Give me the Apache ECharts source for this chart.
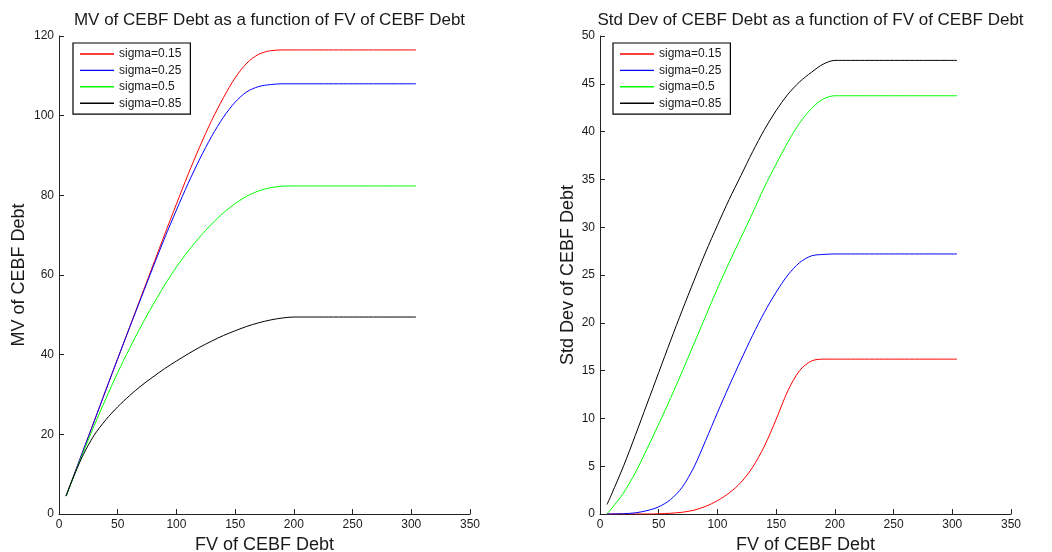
<!DOCTYPE html>
<html>
<head>
<meta charset="utf-8">
<script src="https://cdn.jsdelivr.net/npm/echarts@6/dist/echarts.min.js"></script>
<style>
  html, body { margin: 0; padding: 0; background: #ffffff; }
  #chart { width: 1052px; height: 552px; }
</style>
</head>
<body>
<div id="chart"></div>
<script>
// Face value of the CEBF debt (shared x samples for every curve)
const faceValue = [6, 10, 20, 30, 40, 50, 60, 70, 80, 90, 100, 110, 120, 130, 140, 150, 160, 170, 180, 190, 200, 304];

const sigmaNames = ['sigma=0.15', 'sigma=0.25', 'sigma=0.5', 'sigma=0.85'];

// Market value of the debt, one array per sigma
const mvSigma015 = [4.5, 7.6, 15.5, 23.3, 31.2, 39.0, 46.8, 54.6, 62.4, 70.2, 77.8, 85.3, 92.3, 98.8, 104.5, 109.5, 113.2, 115.4, 116.3, 116.5, 116.5, 116.5];
const mvSigma025 = [4.5, 7.6, 15.5, 23.3, 31.2, 39.0, 46.7, 54.3, 61.9, 69.3, 76.3, 83.0, 89.2, 94.8, 99.6, 103.4, 106.0, 107.3, 107.8, 108.0, 108.0, 108.0];
const mvSigma050 = [4.5, 7.5, 15.0, 22.2, 29.0, 35.5, 41.5, 47.2, 52.5, 57.5, 62.0, 66.0, 69.6, 72.8, 75.6, 77.9, 79.8, 81.1, 81.9, 82.3, 82.35, 82.35];
const mvSigma085 = [4.5, 7.6, 14.5, 19.8, 23.7, 26.9, 29.7, 32.2, 34.4, 36.5, 38.4, 40.2, 41.9, 43.4, 44.8, 46.0, 47.1, 48.0, 48.7, 49.2, 49.45, 49.45];

// Standard deviation of the debt value, one array per sigma
const sdSigma015 = [0, 0, 0, 0, 0, 0.02, 0.08, 0.18, 0.4, 0.8, 1.4, 2.2, 3.3, 4.9, 7.1, 9.9, 12.9, 15.0, 16.0, 16.2, 16.2, 16.2];
const sdSigma025 = [0, 0, 0.03, 0.12, 0.35, 0.75, 1.5, 2.8, 4.9, 7.7, 10.6, 13.4, 16.1, 18.7, 21.1, 23.2, 25.0, 26.3, 27.0, 27.15, 27.2, 27.2];
const sdSigma050 = [0.05, 0.6, 2.2, 4.3, 6.8, 9.4, 12.1, 14.9, 17.8, 20.7, 23.6, 26.3, 28.9, 31.5, 34.2, 36.6, 38.9, 40.9, 42.4, 43.4, 43.75, 43.75];
const sdSigma085 = [1.0, 2.1, 5.0, 8.2, 11.5, 14.8, 18.1, 21.3, 24.4, 27.4, 30.2, 32.9, 35.4, 37.9, 40.2, 42.2, 43.9, 45.2, 46.2, 47.05, 47.45, 47.45];

const lineColors = ['#ff0000', '#0000ff', '#00ff00', '#000000'];

const FONT = '"Liberation Sans", Arial, Helvetica, sans-serif';
const INK = '#1a1a1a';

function pairs(ys) {
  return faceValue.map((x, i) => [x, ys[i]]);
}

function curve(name, ys, idx, axisIdx) {
  return {
    name: name,
    type: 'line',
    xAxisIndex: axisIdx,
    yAxisIndex: axisIdx,
    data: pairs(ys),
    smooth: 0.3,
    showSymbol: false,
    symbol: 'none',
    animation: false,
    color: lineColors[idx],
    lineStyle: { width: 1, color: lineColors[idx] }
  };
}

function xAxisDef(gridIdx) {
  return {
    gridIndex: gridIdx,
    type: 'value',
    min: 0, max: 350, interval: 50,
    name: 'FV of CEBF Debt',
    nameLocation: 'middle',
    nameGap: 16,
    nameTextStyle: { fontFamily: FONT, fontSize: 18, color: INK },
    axisLine: { show: true, onZero: false, lineStyle: { color: '#222', width: 1 } },
    axisTick: { show: true, inside: true, length: 5, lineStyle: { color: '#222' } },
    axisLabel: { fontFamily: FONT, fontSize: 12, color: INK, margin: 5 },
    splitLine: { show: false }
  };
}

function yAxisDef(gridIdx, title, max, step, gap) {
  return {
    gridIndex: gridIdx,
    type: 'value',
    min: 0, max: max, interval: step,
    name: title,
    nameLocation: 'middle',
    nameGap: gap,
    nameRotate: 90,
    nameTextStyle: { fontFamily: FONT, fontSize: 18, color: INK },
    axisLine: { show: true, onZero: false, lineStyle: { color: '#222', width: 1 } },
    axisTick: { show: true, inside: true, length: 5, lineStyle: { color: '#222' } },
    axisLabel: { fontFamily: FONT, fontSize: 12, color: INK, margin: 5 },
    splitLine: { show: false }
  };
}

function legendDef(left) {
  return {
    data: sigmaNames,
    orient: 'vertical',
    left: left,
    top: 43,
    padding: [5, 9, 5, 7],
    itemGap: 4.4,
    itemWidth: 34,
    itemHeight: 1.4,
    icon: 'rect',
    backgroundColor: '#ffffff',
    borderColor: '#000000',
    borderWidth: 1.2,
    selectedMode: false,
    textStyle: { fontFamily: FONT, fontSize: 12, color: INK, lineHeight: 12 }
  };
}

const chart = echarts.init(document.getElementById('chart'), null, { renderer: 'canvas' });

chart.setOption({
  backgroundColor: '#ffffff',
  animation: false,
  title: [
    {
      text: 'MV of CEBF Debt as a function of FV of CEBF Debt',
      left: 264.5, top: 7, textAlign: 'center',
      textStyle: { fontFamily: FONT, fontSize: 17, fontWeight: 'normal', color: INK }
    },
    {
      text: 'Std Dev of CEBF Debt as a function of FV of CEBF Debt',
      left: 805.5, top: 7, textAlign: 'center',
      textStyle: { fontFamily: FONT, fontSize: 17, fontWeight: 'normal', color: INK }
    }
  ],
  legend: [legendDef(73), legendDef(613)],
  grid: [
    { left: 59, top: 36, width: 411, height: 478, containLabel: false, outerBoundsMode: 'none' },
    { left: 600, top: 36, width: 411, height: 478, containLabel: false, outerBoundsMode: 'none' }
  ],
  xAxis: [xAxisDef(0), xAxisDef(1)],
  yAxis: [
    yAxisDef(0, 'MV of CEBF Debt', 120, 20, 31),
    yAxisDef(1, 'Std Dev of CEBF Debt', 50, 5, 23)
  ],
  series: [
    curve(sigmaNames[0], mvSigma015, 0, 0),
    curve(sigmaNames[1], mvSigma025, 1, 0),
    curve(sigmaNames[2], mvSigma050, 2, 0),
    curve(sigmaNames[3], mvSigma085, 3, 0),
    curve(sigmaNames[0], sdSigma015, 0, 1),
    curve(sigmaNames[1], sdSigma025, 1, 1),
    curve(sigmaNames[2], sdSigma050, 2, 1),
    curve(sigmaNames[3], sdSigma085, 3, 1)
  ]
});
</script>
</body>
</html>
